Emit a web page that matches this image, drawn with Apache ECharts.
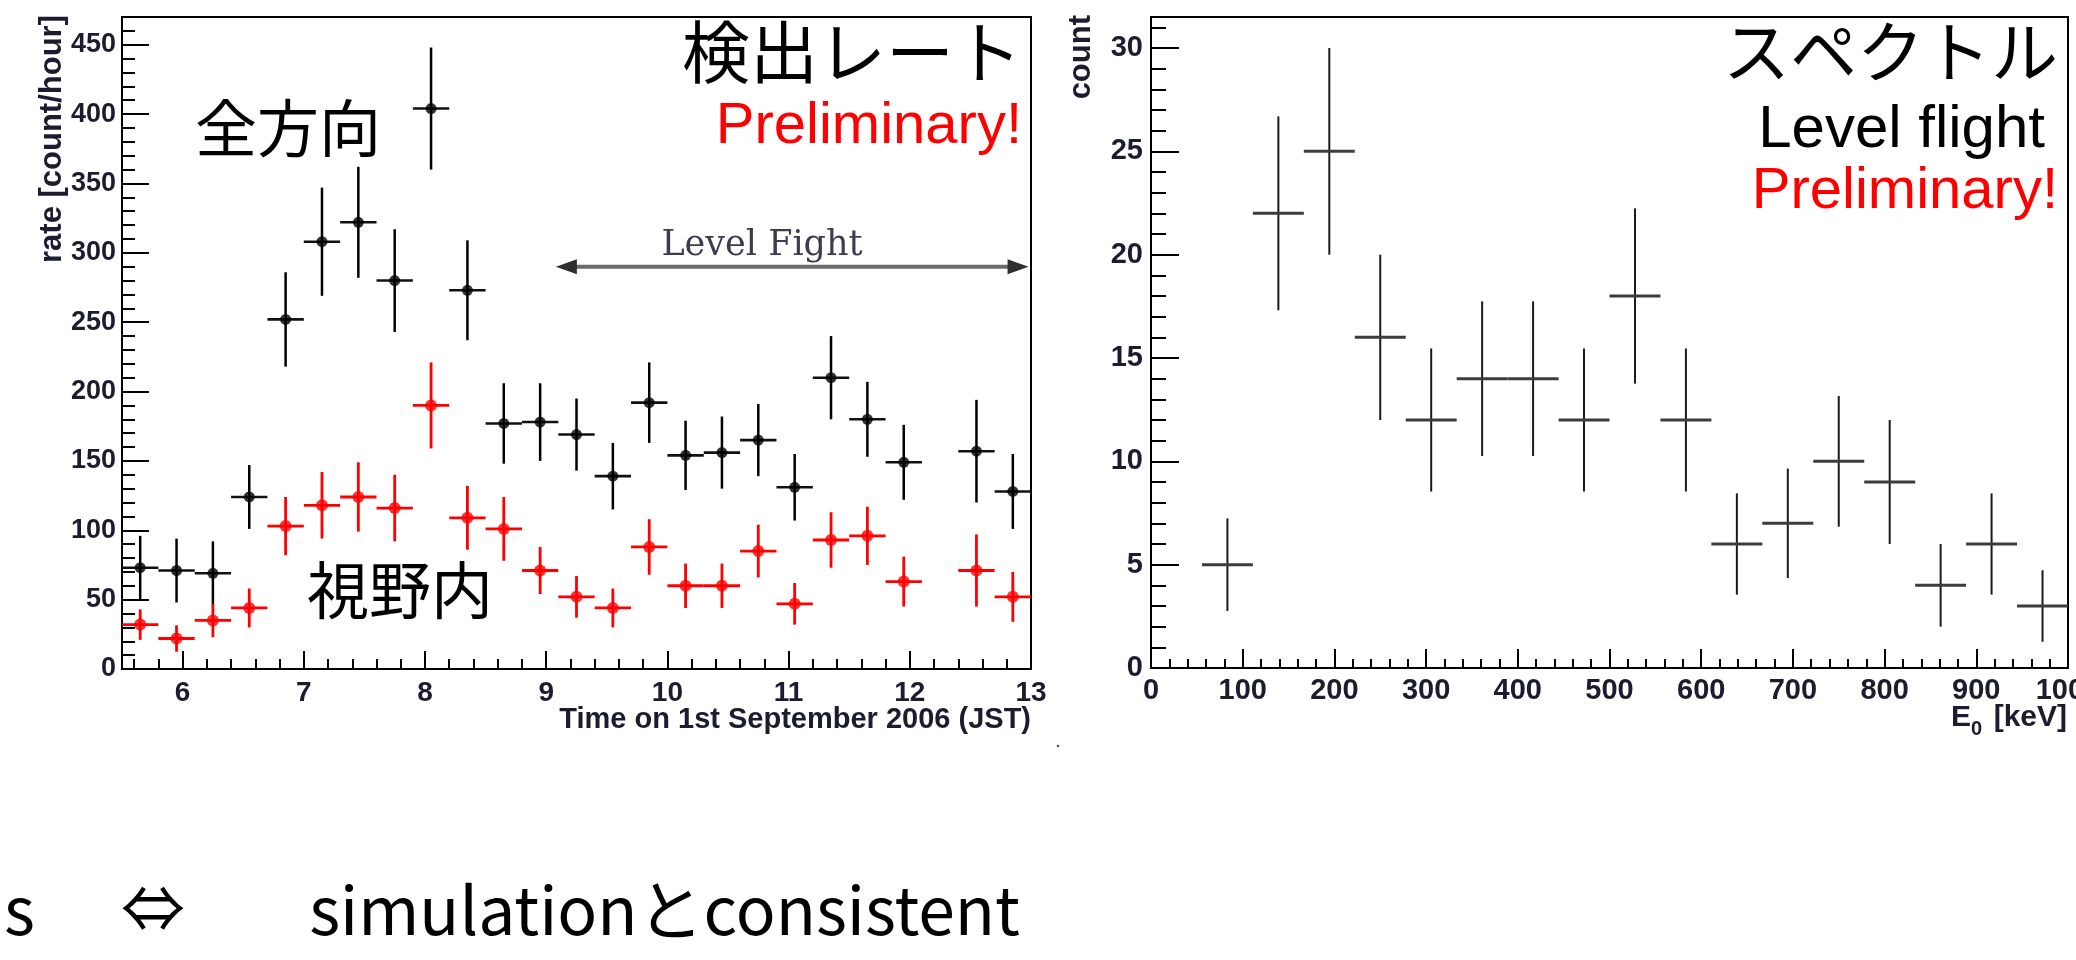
<!DOCTYPE html>
<html>
<head>
<meta charset="utf-8">
<script src="https://cdn.jsdelivr.net/npm/echarts@6/dist/echarts.min.js"></script>
<style>
  html, body { margin: 0; padding: 0; background: #fff; }
  #chart { width: 2076px; height: 960px; }
</style>
</head>
<body>
<div id="chart"></div>
<script>
// ---- Detection rate, 1 Sep 2006 (JST), 18-minute bins ----
const timeBins = [5.65, 5.95, 6.25, 6.55, 6.85, 7.15, 7.45, 7.75, 8.05, 8.35, 8.65, 8.95,
                  9.25, 9.55, 9.85, 10.15, 10.45, 10.75, 11.05, 11.35, 11.65, 11.95, 12.55, 12.85];
const timeHalfWidth = 0.15;
// all directions
const rateAll    = [73, 71, 69, 124, 252, 308, 322, 280, 404, 273, 177, 178,
                    169, 139, 192, 154, 156, 165, 131, 210, 180, 149, 157, 128];
const rateAllErr = [23, 23, 23, 23, 34, 39, 40, 37, 44, 36, 29, 28,
                    26, 24, 29, 25, 26, 26, 24, 30, 27, 27, 37, 27];
// inside field of view
const rateFov    = [32, 22, 35, 44, 103, 118, 124, 116, 190, 109, 101, 71,
                    52, 44, 88, 60, 60, 85, 47, 93, 96, 63, 71, 52];
const rateFovErr = [11, 9.5, 12, 14, 21, 24, 25, 24, 31, 23, 23, 17,
                    15, 14, 20, 16, 16, 19, 15, 20, 21, 18, 26, 18];
// level-flight period marker: [start hour, end hour, rate level]
const levelFlightSpan = [9.08, 12.98, 290];

// ---- Energy spectrum during level flight ----
const energyBins = [27.78, 83.33, 138.89, 194.44, 250, 305.56, 361.11, 416.67, 472.22,
                    527.78, 583.33, 638.89, 694.44, 750, 805.56, 861.11, 916.67, 972.22];
const energyHalfWidth = 27.78;
const spectrumCounts = [0, 5, 22, 25, 16, 12, 14, 14, 12, 18, 12, 6, 7, 10, 9, 4, 6, 3];
const spectrumErr    = [0, 2.24, 4.69, 5, 4, 3.46, 3.74, 3.74, 3.46, 4.24, 3.46,
                        2.45, 2.65, 3.16, 3, 2, 2.45, 1.73];

// ---- Tick labels ----
const timeTicks   = [6, 7, 8, 9, 10, 11, 12, 13];
const rateTicks   = [0, 50, 100, 150, 200, 250, 300, 350, 400, 450];
const energyTicks = [0, 100, 200, 300, 400, 500, 600, 700, 800, 900, 1000];
const countTicks  = [0, 5, 10, 15, 20, 25, 30];

function steps(from, to, step) {
  const out = [];
  for (let v = from; v <= to + 1e-9; v += step) out.push(Math.round(v * 1000) / 1000);
  return out;
}
const timeMinor   = steps(5.6, 13, 0.2);
const rateMinor   = steps(0, 470, 10);
const energyMinor = steps(0, 1000, 20);
const countMinor  = steps(0, 31, 1);

const labelColor = '#1c1c30';
const latin = '"Liberation Sans", Arial, sans-serif';
const cjk = '"Noto Sans CJK JP", "Liberation Sans", sans-serif';

function mainAxis(grid, min, max, ticks, tickLen, labelSize, margin, pos) {
  return {
    type: 'value', gridIndex: grid, min: min, max: max, position: pos,
    axisLine: { show: true, lineStyle: { color: '#000', width: 2 } },
    axisTick: { show: true, inside: true, length: tickLen, customValues: ticks,
                lineStyle: { color: '#000', width: 2 } },
    axisLabel: { show: true, customValues: ticks, fontSize: labelSize, margin: margin,
                 color: labelColor, fontFamily: latin, fontWeight: 'bold',
                 formatter: v => String(v) },
    splitLine: { show: false }
  };
}
function minorAxis(grid, min, max, ticks, tickLen, pos) {
  return {
    type: 'value', gridIndex: grid, min: min, max: max, position: pos, offset: 0,
    axisLine: { show: false },
    axisTick: { show: true, inside: true, length: tickLen, customValues: ticks,
                lineStyle: { color: '#000', width: 2 } },
    axisLabel: { show: false },
    splitLine: { show: false }
  };
}

// cross-shaped error bar: vertical = y error, horizontal = bin width
function crossRenderer(vColor, hColor, vWidth, hWidth) {
  return function (params, api) {
    const x = api.value(0), y = api.value(1), e = api.value(2), dx = api.value(3);
    if (!(y > 0)) return null;
    const c = api.coord([x, y]);
    const t = api.coord([x, y + e]);
    const b = api.coord([x, Math.max(y - e, 0)]);
    const l = api.coord([x - dx, y]);
    const r = api.coord([x + dx, y]);
    return {
      type: 'group',
      children: [
        { type: 'line', shape: { x1: c[0], y1: t[1], x2: c[0], y2: b[1] },
          style: { stroke: vColor, lineWidth: vWidth } },
        { type: 'line', shape: { x1: l[0], y1: c[1], x2: r[0], y2: c[1] },
          style: { stroke: hColor, lineWidth: hWidth } }
      ]
    };
  };
}

function arrowRenderer(params, api) {
  const a = api.coord([api.value(0), api.value(2)]);
  const b = api.coord([api.value(1), api.value(2)]);
  const len = 21, half = 7.5;
  return {
    type: 'group',
    children: [
      { type: 'line', shape: { x1: a[0] + 8, y1: a[1], x2: b[0] - 8, y2: b[1] },
        style: { stroke: '#6a6a6a', lineWidth: 4 } },
      { type: 'polygon', shape: { points: [[a[0], a[1]], [a[0] + len, a[1] - half], [a[0] + len, a[1] + half]] },
        style: { fill: '#2e2e2e' } },
      { type: 'polygon', shape: { points: [[b[0], b[1]], [b[0] - len, b[1] - half], [b[0] - len, b[1] + half]] },
        style: { fill: '#2e2e2e' } }
    ]
  };
}

const allData = timeBins.map((t, i) => [t, rateAll[i], rateAllErr[i], timeHalfWidth]);
const fovData = timeBins.map((t, i) => [t, rateFov[i], rateFovErr[i], timeHalfWidth]);
const specData = energyBins.map((e, i) => [e, spectrumCounts[i], spectrumErr[i], energyHalfWidth]);

function text(str, x, y, size, opts) {
  opts = opts || {};
  return {
    type: 'text', x: x, y: y, rotation: opts.rotation || 0, z: 10,
    style: {
      text: str, fill: opts.color || '#000', fontSize: size,
      fontFamily: opts.family || latin, fontWeight: opts.weight || 'normal',
      align: opts.align || 'left', verticalAlign: opts.valign || 'middle'
    }
  };
}

const chart = echarts.init(document.getElementById('chart'), null, { renderer: 'canvas' });
chart.setOption({
  animation: false,
  backgroundColor: '#fff',
  grid: [
    { left: 122, top: 17, width: 909, height: 652, show: true, borderColor: '#000', borderWidth: 2,
      backgroundColor: 'transparent', containLabel: false, outerBoundsMode: 'none' },
    { left: 1151, top: 17, width: 917, height: 651, show: true, borderColor: '#000', borderWidth: 2,
      backgroundColor: 'transparent', containLabel: false, outerBoundsMode: 'none' }
  ],
  xAxis: [
    mainAxis(0, 5.5, 13, timeTicks, 18, 28, 10, 'bottom'),
    minorAxis(0, 5.5, 13, timeMinor, 10, 'bottom'),
    mainAxis(1, 0, 1000, energyTicks, 19, 29, 8, 'bottom'),
    minorAxis(1, 0, 1000, energyMinor, 9, 'bottom')
  ],
  yAxis: [
    mainAxis(0, 0, 470, rateTicks, 27, 27, 6, 'left'),
    minorAxis(0, 0, 470, rateMinor, 13, 'left'),
    mainAxis(1, 0, 31.5, countTicks, 28, 29, 8, 'left'),
    minorAxis(1, 0, 31.5, countMinor, 15, 'left')
  ],
  series: [
    { type: 'custom', xAxisIndex: 0, yAxisIndex: 0, data: allData, encode: { x: 0, y: 1 },
      renderItem: crossRenderer('#000', '#111', 2.5, 2.6), z: 2, clip: false },
    { type: 'scatter', xAxisIndex: 0, yAxisIndex: 0, data: allData.map(d => [d[0], d[1]]),
      symbol: 'circle', symbolSize: 11, itemStyle: { color: '#000' }, z: 3 },
    { type: 'custom', xAxisIndex: 0, yAxisIndex: 0, data: fovData, encode: { x: 0, y: 1 },
      renderItem: crossRenderer('#ff0000', '#ff0000', 2.8, 2.8), z: 4, clip: false },
    { type: 'scatter', xAxisIndex: 0, yAxisIndex: 0, data: fovData.map(d => [d[0], d[1]]),
      symbol: 'circle', symbolSize: 12, itemStyle: { color: '#ff0000' }, z: 5 },
    { type: 'custom', xAxisIndex: 0, yAxisIndex: 0, data: [levelFlightSpan], encode: { x: [0, 1], y: 2 },
      renderItem: arrowRenderer, z: 2, clip: false },
    { type: 'custom', xAxisIndex: 2, yAxisIndex: 2, data: specData, encode: { x: 0, y: 1 },
      renderItem: crossRenderer('#1a1a1a', '#3c3c3c', 2, 3), z: 2, clip: false }
  ],
  graphic: [
    text('検出レート', 1022, 52, 68, { family: cjk, align: 'right' }),
    text('Preliminary!', 1022, 127, 58, { color: '#ff0000', align: 'right' }),
    text('全方向', 288, 128, 62, { family: cjk, align: 'center' }),
    text('視野内', 400, 590, 62, { family: cjk, align: 'center' }),
    text('Level Fight', 762, 246, 35, { family: '"DejaVu Serif", serif', color: '#3c3c50', align: 'center' }),
    text('スペクトル', 2058, 52, 67, { family: cjk, align: 'right' }),
    text('Level flight', 2045, 130, 60, { align: 'right' }),
    text('Preliminary!', 2058, 192, 58, { color: '#ff0000', align: 'right' }),
    text('rate [count/hour]', 52, 15, 31, { weight: 'bold', color: labelColor, align: 'right', rotation: Math.PI / 2 }),
    text('count', 1081, 15, 31, { weight: 'bold', color: labelColor, align: 'right', rotation: Math.PI / 2 }),
    text('Time on 1st September 2006 (JST)', 1031, 720, 29, { weight: 'bold', color: labelColor, align: 'right' }),
    text('E', 1951, 718, 30, { weight: 'bold', color: labelColor }),
    text('0', 1971, 729, 20, { weight: 'bold', color: labelColor }),
    text('[keV]', 2067, 718, 30, { weight: 'bold', color: labelColor, align: 'right' }),
    text('s', 4, 910, 66, { family: cjk }),
    text('⇔', 153, 908, 64, { family: cjk, align: 'center' }),
    text('simulationとconsistent', 1020, 910, 66, { family: cjk, align: 'right' }),
    { type: 'circle', shape: { cx: 1058, cy: 746, r: 1.3 }, style: { fill: '#555' } }
  ]
});
</script>
</body>
</html>
